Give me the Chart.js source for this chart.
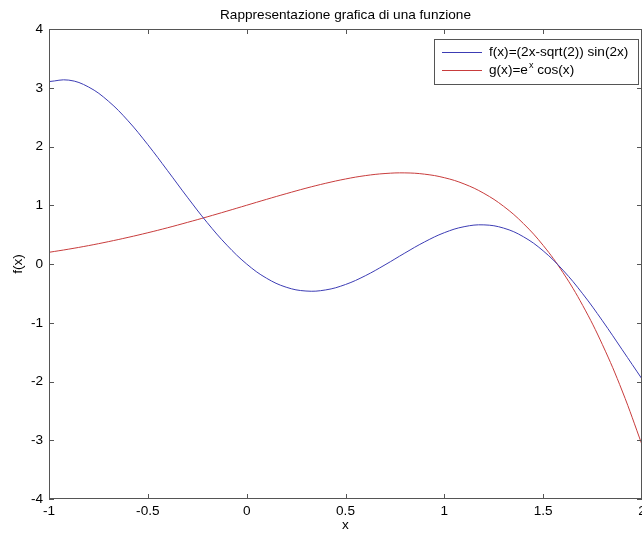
<!DOCTYPE html>
<html lang="it">
  <head>
    <meta charset="UTF-8" />
    <title>Rappresentazione grafica di una funzione</title>
    <script src="https://cdn.jsdelivr.net/npm/chart.js@4.4.0/dist/chart.umd.min.js"></script>
    <style>
      html, body { margin: 0; padding: 0; background: #fff; }
      #wrap { width: 642px; height: 535px; }
    </style>
  </head>
  <body>
    <div id="wrap"><canvas id="plot" width="642" height="535"></canvas></div>

    <script>
      // values
      const xs = [-1.0, -0.9, -0.8, -0.7, -0.6, -0.5, -0.4, -0.3, -0.2, -0.1, 0.0,
                  0.1, 0.2, 0.3, 0.4, 0.5, 0.6, 0.7, 0.8, 0.9, 1.0,
                  1.1, 1.2, 1.3, 1.4, 1.5, 1.6, 1.7, 1.8, 1.9, 2.0];
      const fVals = [3.105, 3.130, 3.013, 2.773, 2.437, 2.031, 1.588, 1.137, 0.706, 0.321, 0.0,
                     -0.241, -0.395, -0.460, -0.441, -0.349, -0.200, -0.014, 0.186, 0.376, 0.533,
                     0.635, 0.666, 0.611, 0.464, 0.224, -0.104, -0.507, -0.967, -1.460, -1.957];
      const gVals = [0.199, 0.253, 0.313, 0.380, 0.453, 0.532, 0.617, 0.708, 0.802, 0.900, 1.0,
                     1.100, 1.197, 1.290, 1.374, 1.447, 1.504, 1.540, 1.551, 1.529, 1.469,
                     1.363, 1.203, 0.982, 0.689, 0.317, -0.145, -0.705, -1.374, -2.162, -3.075];
      const xTicks = [-1, -0.5, 0, 0.5, 1, 1.5, 2];
      const yTicks = [-4, -3, -2, -1, 0, 1, 2, 3, 4];
      const titleText = 'Rappresentazione grafica di una funzione';
      const xLabel = 'x';
      const yLabel = 'f(x)';

      const FONT = '13.6px "Liberation Sans", Arial, sans-serif';
      const AXIS = '#555';
      const BLUE = '#3c3cb4';
      const RED = '#c83c3c';

      // box, inner ticks, tick labels, titles and legend, matlab style
      const matlabAxes = {
        id: 'matlabAxes',
        afterDatasetsDraw(chart) {
          const ctx = chart.ctx;
          const a = chart.chartArea;
          const sx = chart.scales.x, sy = chart.scales.y;
          ctx.save();
          ctx.strokeStyle = AXIS;
          ctx.lineWidth = 1;
          ctx.strokeRect(a.left + 0.5, a.top + 0.5, a.right - a.left - 1, a.bottom - a.top - 1);

          ctx.fillStyle = '#000';
          ctx.font = FONT;
          ctx.beginPath();
          xTicks.forEach(v => {
            const px = Math.round(sx.getPixelForValue(v)) + 0.5;
            ctx.moveTo(px, a.bottom); ctx.lineTo(px, a.bottom - 5);
            ctx.moveTo(px, a.top); ctx.lineTo(px, a.top + 5);
          });
          yTicks.forEach(v => {
            const py = Math.round(sy.getPixelForValue(v)) + 0.5;
            ctx.moveTo(a.left, py); ctx.lineTo(a.left + 5, py);
            ctx.moveTo(a.right, py); ctx.lineTo(a.right - 5, py);
          });
          ctx.stroke();

          ctx.textAlign = 'center';
          ctx.textBaseline = 'middle';
          xTicks.forEach(v => {
            ctx.fillText(String(v), sx.getPixelForValue(v), a.bottom + 12);
          });
          ctx.textAlign = 'right';
          yTicks.forEach(v => {
            ctx.fillText(String(v), a.left - 6, sy.getPixelForValue(v));
          });

          const cx = (a.left + a.right) / 2;
          ctx.textAlign = 'center';
          ctx.fillText(titleText, cx, 15);
          ctx.fillText(xLabel, cx, a.bottom + 26);
          ctx.save();
          ctx.translate(18, (a.top + a.bottom) / 2);
          ctx.rotate(-Math.PI / 2);
          ctx.fillText(yLabel, 0, 0);
          ctx.restore();

          // legend
          const lx = 434.5, ly = 39.5, lw = 204, lh = 45;
          ctx.fillStyle = '#fff';
          ctx.fillRect(lx, ly, lw, lh);
          ctx.strokeStyle = AXIS;
          ctx.strokeRect(lx, ly, lw, lh);
          const rows = [{ y: 52.5, color: BLUE }, { y: 70.5, color: RED }];
          rows.forEach(r => {
            ctx.strokeStyle = r.color;
            ctx.beginPath();
            ctx.moveTo(442, r.y); ctx.lineTo(482, r.y);
            ctx.stroke();
          });
          ctx.fillStyle = '#000';
          ctx.textAlign = 'left';
          ctx.textBaseline = 'middle';
          ctx.font = FONT;
          ctx.fillText(chart.data.datasets[0].label, 489, rows[0].y);
          let t = 'g(x)=e';
          ctx.fillText(t, 489, rows[1].y);
          let w = ctx.measureText(t).width;
          ctx.font = '9px "Liberation Sans", Arial, sans-serif';
          ctx.fillText('x', 489 + w + 1, rows[1].y - 5);
          const w2 = ctx.measureText('x').width;
          ctx.font = FONT;
          ctx.fillText(' cos(x)', 489 + w + w2 + 1, rows[1].y);
          ctx.restore();
        }
      };

      new Chart(document.getElementById('plot'), {
        type: 'line',
        data: {
          labels: xs,
          datasets: [
            {
              label: 'f(x)=(2x-sqrt(2)) sin(2x)',
              data: xs.map((x, i) => ({ x: x, y: fVals[i] })),
              borderColor: BLUE,
              borderWidth: 1,
              pointRadius: 0,
              tension: 0.4,
              fill: false,
            },
            {
              label: 'g(x)=eˣ cos(x)',
              data: xs.map((x, i) => ({ x: x, y: gVals[i] })),
              borderColor: RED,
              borderWidth: 1,
              pointRadius: 0,
              tension: 0.4,
              fill: false,
            },
          ],
        },
        options: {
          responsive: false,
          animation: false,
          layout: { padding: { left: 49, top: 29, right: 0, bottom: 36 } },
          plugins: {
            legend: { display: false },
            tooltip: { enabled: false },
            title: { display: false },
          },
          scales: {
            x: { type: 'linear', min: -1, max: 2, display: false },
            y: { type: 'linear', min: -4, max: 4, display: false },
          },
        },
        plugins: [matlabAxes],
      });
    </script>
  </body>
</html>
